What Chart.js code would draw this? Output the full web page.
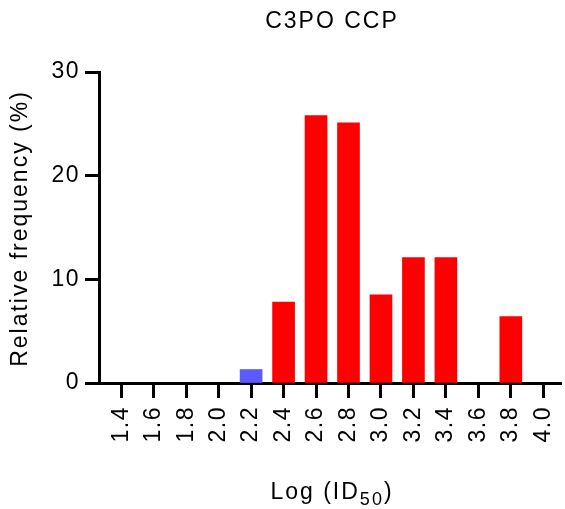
<!DOCTYPE html>
<html>
<head>
<meta charset="utf-8">
<script src="https://cdn.jsdelivr.net/npm/chart.js@4/dist/chart.umd.min.js"></script>
<style>
  html, body { margin: 0; padding: 0; background: #fff; }
  #wrap { width: 565px; height: 509px; }
</style>
</head>
<body>
<div id="wrap"><canvas id="chart" width="565" height="509"></canvas></div>
<script>
// Histogram of Log(ID50) values, C3PO CCP
const chartTitle = 'C3PO CCP';
const yAxisTitle = 'Relative frequency (%)';
const xAxisTitleMain = 'Log (ID';
const xAxisTitleSub = '50';
const xAxisTitleEnd = ')';

const binCentres = [1.4, 1.6, 1.8, 2.0, 2.2, 2.4, 2.6, 2.8, 3.0, 3.2, 3.4, 3.6, 3.8, 4.0];
const tickLabels = ['1.4', '1.6', '1.8', '2.0', '2.2', '2.4', '2.6', '2.8', '3.0', '3.2', '3.4', '3.6', '3.8', '4.0'];
const relativeFrequency = [0, 0, 0, 0, 1.3, 7.8, 25.8, 25.1, 8.5, 12.1, 12.1, 0, 6.4, 0];
const highlightedBins = [2.2];
const yTicks = [0, 10, 20, 30];

const FONT = '"Liberation Sans", Arial, Helvetica, sans-serif';
const RED = '#ff0000';
const BLUE = '#5a5aff';

const titles = {
  id: 'titles',
  beforeDraw(chart) {
    chart.ctx.letterSpacing = '1.5px';
  },
  afterDraw(chart) {
    const { ctx, chartArea } = chart;
    const cx = (chartArea.left + chartArea.right) / 2 + 2;
    ctx.save();
    ctx.fillStyle = '#000';
    ctx.letterSpacing = '2px';
    ctx.textBaseline = 'alphabetic';
    ctx.font = '23px ' + FONT;

    // chart title
    ctx.textAlign = 'center';
    ctx.fillText(chartTitle, cx, chartArea.top - 44);

    // y-axis title
    ctx.save();
    ctx.translate(chartArea.left - 72, (chartArea.top + chartArea.bottom) / 2 + 1);
    ctx.rotate(-Math.PI / 2);
    ctx.fillText(yAxisTitle, 0, 0);
    ctx.restore();

    // x-axis title with subscript
    ctx.textAlign = 'left';
    const subFont = '18px ' + FONT;
    const mainFont = '23px ' + FONT;
    ctx.font = mainFont;
    const w1 = ctx.measureText(xAxisTitleMain).width;
    const w3 = ctx.measureText(xAxisTitleEnd).width;
    ctx.font = subFont;
    const w2 = ctx.measureText(xAxisTitleSub).width;
    const total = w1 + w2 + w3;
    let x = cx - total / 2;
    const base = chartArea.bottom + 116;
    ctx.font = mainFont;
    ctx.fillText(xAxisTitleMain, x, base);
    x += w1;
    ctx.font = subFont;
    ctx.fillText(xAxisTitleSub, x, base + 6);
    x += w2;
    ctx.font = mainFont;
    ctx.fillText(xAxisTitleEnd, x, base);
    ctx.restore();
  }
};

new Chart(document.getElementById('chart'), {
  type: 'bar',
  data: {
    datasets: [{
      data: binCentres.map((x, i) => ({ x: x, y: relativeFrequency[i] })),
      backgroundColor: (c) => {
        if (!c.raw || c.raw.y === 0) return 'rgba(0,0,0,0)';
        return highlightedBins.includes(c.raw.x) ? BLUE : RED;
      },
      borderWidth: 0,
      barThickness: 22
    }]
  },
  options: {
    responsive: false,
    animation: false,
    layout: { padding: { top: 72, right: 4, left: 0, bottom: 0 } },
    plugins: { legend: { display: false }, title: { display: false }, tooltip: { enabled: false } },
    scales: {
      x: {
        type: 'linear',
        min: 1.263,
        max: 4.109,
        offset: false,
        z: 1,
        afterFit: (s) => { s.height = 126; s.paddingLeft = 0; s.paddingRight = 0; },
        afterBuildTicks: (s) => { s.ticks = binCentres.map(v => ({ value: v })); },
        border: { display: true, color: '#000', width: 3 },
        grid: { display: true, offset: false, drawOnChartArea: false, drawTicks: true, tickLength: 15, tickWidth: 3, tickColor: '#000' },
        ticks: {
          color: '#000',
          font: { family: FONT, size: 23 },
          minRotation: 90,
          maxRotation: 90,
          padding: 8,
          autoSkip: false,
          callback: (v, i) => tickLabels[i]
        }
      },
      y: {
        min: 0,
        max: 30,
        z: 1,
        afterFit: (s) => { s.width = 99; s.paddingTop = 0; s.paddingBottom = 0; },
        afterBuildTicks: (s) => { s.ticks = yTicks.map(v => ({ value: v })); },
        border: { display: true, color: '#000', width: 3 },
        grid: { display: true, drawOnChartArea: false, drawTicks: true, tickLength: 14, tickWidth: 3, tickColor: '#000' },
        ticks: {
          color: '#000',
          font: { family: FONT, size: 23 },
          padding: 5,
          callback: (v) => String(v)
        }
      }
    }
  },
  plugins: [titles]
});
</script>
</body>
</html>
